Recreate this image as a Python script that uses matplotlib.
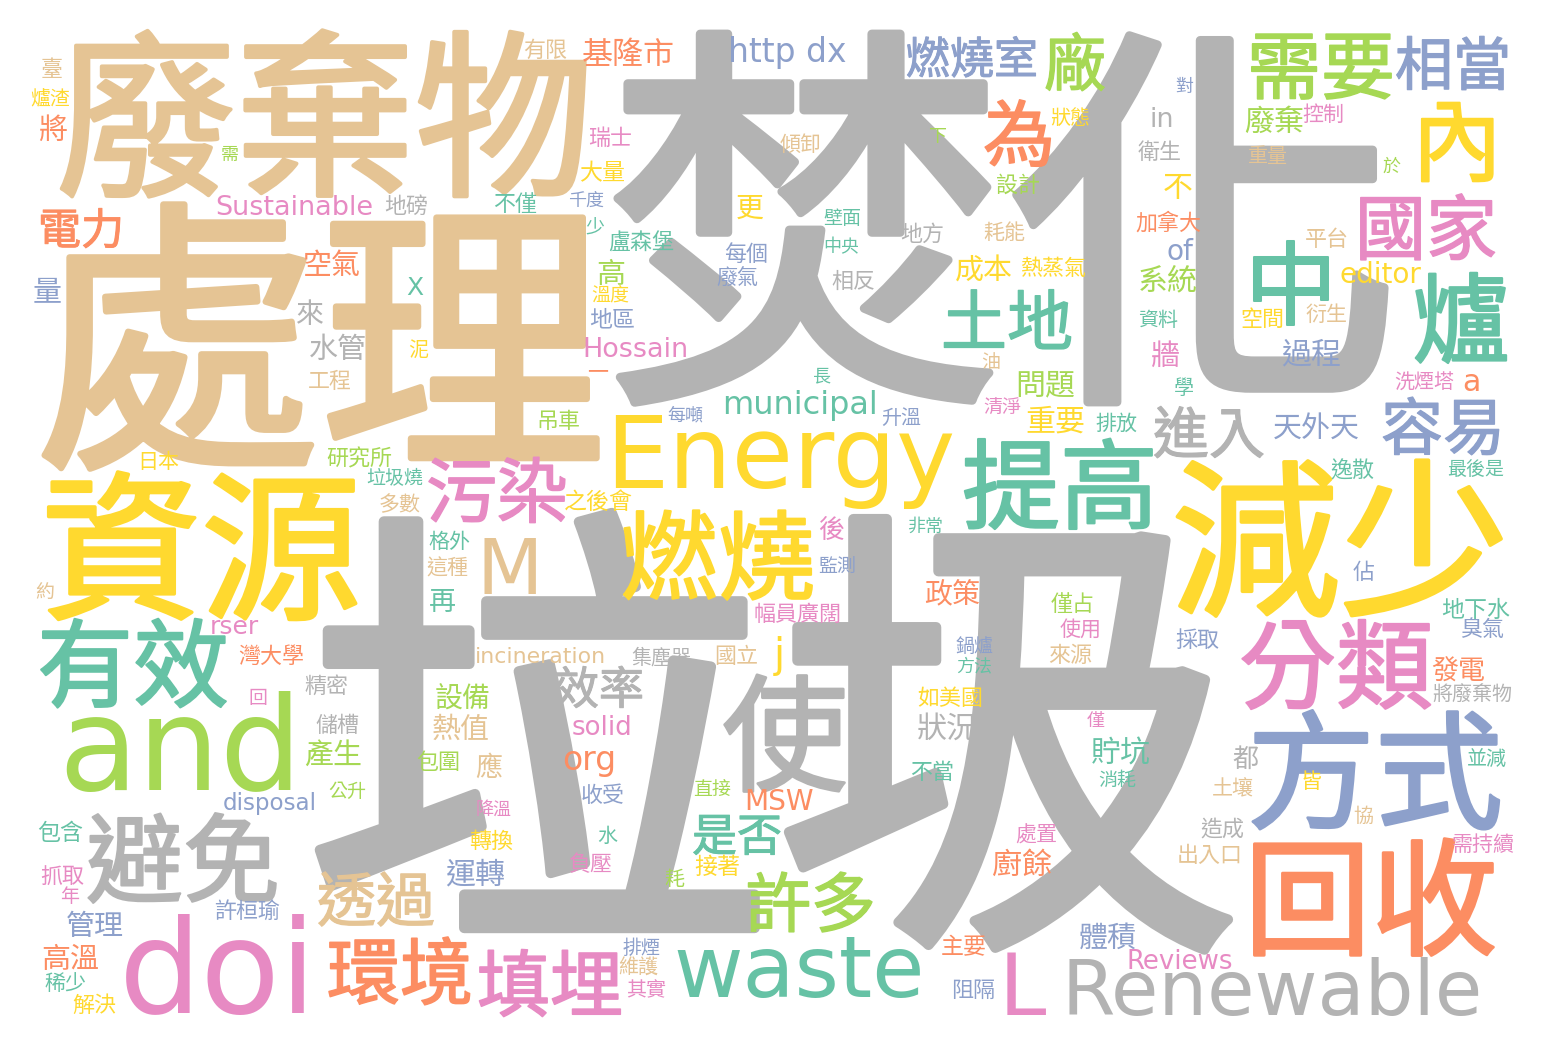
import matplotlib
matplotlib.use("Agg")
import matplotlib.pyplot as plt
import matplotlib.patheffects as pe

# Latin words in DejaVu, CJK glyphs fall back to Noto Sans CJK TC
plt.rcParams["font.family"] = ["DejaVu Sans", "Noto Sans CJK TC"]

W, H = 1548, 1052
DPI = 100

PALETTE = {
    "green": "#66c2a5", "orange": "#fc8d62", "blue": "#8da0cb", "pink": "#e78ac3",
    "lime": "#a6d854", "yellow": "#ffd92f", "tan": "#e5c494", "gray": "#b3b3b3",
}

# word -> weight (rendered em size in px)
WEIGHTS = {
    "焚化": 400, "垃圾": 470, "處理": 286, "廢棄物": 179, "資源": 160, "減少": 169,
    "回收": 127, "方式": 128, "避免": 97, "提高": 98, "燃燒": 97, "分類": 97,
    "有效": 96, "中": 92, "爐": 98, "內": 90, "為": 72, "廠": 62, "需要": 74,
    "相當": 58, "國家": 71, "土地": 66, "容易": 62, "進入": 56, "污染": 71,
    "效率": 45, "使": 126, "是否": 45, "許多": 65, "透過": 59, "環境": 73,
    "填埋": 73, "燃燒室": 44, "電力": 43, "基隆市": 31,
    "臺": 22, "爐渣": 20, "將": 29, "需": 18, "地磅": 22, "空氣": 29, "量": 29,
    "來": 28, "水管": 29, "工程": 22, "日本": 21, "研究所": 22, "垃圾燒": 19,
    "多數": 21, "約": 19, "灣大學": 22, "精密": 22, "回": 19, "泥": 20, "一": 21,
    "吊車": 22, "每噸": 18, "之後會": 23, "格外": 21, "這種": 21, "再": 27,
    "幅員廣闊": 22, "集塵器": 20, "國立": 22, "設備": 28, "油": 19, "長": 18,
    "問題": 30, "升溫": 20, "清淨": 19, "重要": 30, "排放": 21, "後": 26,
    "非常": 18, "監測": 19, "政策": 28, "僅占": 22, "使用": 21, "鍋爐": 19,
    "方法": 18, "來源": 22, "如美國": 22, "傾卸": 21, "衛生": 22, "設計": 22,
    "壁面": 19, "中央": 18, "地方": 22, "耗能": 21, "加拿大": 22, "相反": 22,
    "成本": 29, "熱蒸氣": 22, "系統": 30, "資料": 20, "牆": 29, "對": 18,
    "狀態": 20, "下": 18, "廢棄": 30, "控制": 21, "重量": 20, "於": 18, "不": 30,
    "平台": 22, "衍生": 21, "空間": 22, "過程": 30, "學": 20, "洗煙塔": 20,
    "天外天": 29, "逸散": 22, "最後是": 19, "佔": 22, "地下水": 23, "臭氣": 22,
    "採取": 22, "發電": 27, "將廢棄物": 20, "都": 26, "並減": 20, "皆": 21,
    "土壤": 21, "協": 20, "造成": 22, "需持續": 21, "出入口": 22, "狀況": 30,
    "僅": 18, "貯坑": 30, "不當": 22, "消耗": 19, "處置": 21, "廚餘": 30,
    "主要": 23, "體積": 29, "阻隔": 22, "熱值": 29, "包圍": 22, "應": 27,
    "收受": 22, "直接": 19, "降溫": 18, "水": 20, "轉換": 22, "負壓": 22,
    "接著": 23, "耗": 20, "運轉": 30, "排煙": 19, "維護": 20, "其實": 20,
    "儲槽": 22, "產生": 29, "公升": 19, "包含": 23, "抓取": 22, "年": 19,
    "許桓瑜": 22, "管理": 29, "高溫": 29, "稀少": 21, "解決": 22, "有限": 22,
    "瑞士": 22, "大量": 23, "不僅": 22, "千度": 18, "少": 19, "盧森堡": 22,
    "更": 28, "每個": 22, "廢氣": 21, "高": 29, "溫度": 19, "地區": 23,
    "Sustainable": 27, "X": 25, "rser": 25, "Hossain": 27, "municipal": 32,
    "Energy": 100, "M": 77, "incineration": 22, "j": 40, "http dx": 33, "in": 27,
    "of": 28, "editor": 28, "a": 30, "Reviews": 26, "Renewable": 77, "MSW": 28,
    "waste": 85, "L": 85, "solid": 26, "org": 33, "disposal": 23, "doi": 130,
    "and": 130,
}

COLORS = {
    "焚化": "gray", "垃圾": "gray", "處理": "tan", "廢棄物": "tan", "資源": "yellow",
    "減少": "yellow", "回收": "orange", "方式": "blue", "避免": "gray", "提高": "green",
    "燃燒": "yellow", "分類": "pink", "有效": "green", "中": "green", "爐": "green",
    "內": "yellow", "為": "orange", "廠": "lime", "需要": "lime", "相當": "blue",
    "國家": "pink", "土地": "green", "容易": "blue", "進入": "gray", "污染": "pink",
    "效率": "gray", "使": "gray", "是否": "green", "許多": "lime", "透過": "tan",
    "環境": "orange", "填埋": "pink", "燃燒室": "blue", "電力": "orange", "基隆市": "orange",
    "臺": "tan", "爐渣": "yellow", "將": "orange", "需": "lime", "地磅": "gray",
    "空氣": "orange", "量": "blue", "來": "gray", "水管": "gray", "工程": "tan",
    "日本": "yellow", "研究所": "lime", "垃圾燒": "green", "多數": "tan", "約": "tan",
    "灣大學": "orange", "精密": "gray", "回": "pink", "泥": "yellow", "一": "orange",
    "吊車": "lime", "每噸": "blue", "之後會": "yellow", "格外": "green", "這種": "tan",
    "再": "green", "幅員廣闊": "pink", "集塵器": "gray", "國立": "tan", "設備": "lime",
    "油": "tan", "長": "green", "問題": "lime", "升溫": "blue", "清淨": "pink",
    "重要": "yellow", "排放": "green", "後": "pink", "非常": "green", "監測": "blue",
    "政策": "orange", "僅占": "lime", "使用": "pink", "鍋爐": "blue", "方法": "green",
    "來源": "tan", "如美國": "yellow", "傾卸": "tan", "衛生": "gray", "設計": "lime",
    "壁面": "green", "中央": "green", "地方": "gray", "耗能": "tan", "加拿大": "orange",
    "相反": "gray", "成本": "yellow", "熱蒸氣": "yellow", "系統": "lime", "資料": "green",
    "牆": "pink", "對": "blue", "狀態": "yellow", "下": "lime", "廢棄": "lime",
    "控制": "pink", "重量": "tan", "於": "lime", "不": "yellow", "平台": "tan",
    "衍生": "tan", "空間": "yellow", "過程": "blue", "學": "green", "洗煙塔": "pink",
    "天外天": "blue", "逸散": "green", "最後是": "green", "佔": "blue", "地下水": "green",
    "臭氣": "blue", "採取": "blue", "發電": "orange", "將廢棄物": "gray", "都": "gray",
    "並減": "green", "皆": "yellow", "土壤": "tan", "協": "tan", "造成": "gray",
    "需持續": "pink", "出入口": "tan", "狀況": "gray", "僅": "pink", "貯坑": "green",
    "不當": "green", "消耗": "green", "處置": "pink", "廚餘": "orange", "主要": "orange",
    "體積": "blue", "阻隔": "blue", "熱值": "tan", "包圍": "lime", "應": "tan",
    "收受": "blue", "直接": "lime", "降溫": "pink", "水": "green", "轉換": "yellow",
    "負壓": "pink", "接著": "yellow", "耗": "lime", "運轉": "blue", "排煙": "blue",
    "維護": "tan", "其實": "pink", "儲槽": "gray", "產生": "lime", "公升": "lime",
    "包含": "green", "抓取": "pink", "年": "pink", "許桓瑜": "blue", "管理": "blue",
    "高溫": "orange", "稀少": "green", "解決": "yellow", "有限": "tan", "瑞士": "pink",
    "大量": "yellow", "不僅": "green", "千度": "blue", "少": "green", "盧森堡": "green",
    "更": "yellow", "每個": "blue", "廢氣": "blue", "高": "lime", "溫度": "yellow",
    "地區": "blue",
    "Sustainable": "pink", "X": "green", "rser": "pink", "Hossain": "pink",
    "municipal": "green", "Energy": "yellow", "M": "tan", "incineration": "tan",
    "j": "yellow", "http dx": "blue", "in": "gray", "of": "blue", "editor": "yellow",
    "a": "orange", "Reviews": "pink", "Renewable": "gray", "MSW": "orange",
    "waste": "green", "L": "pink", "solid": "pink", "org": "orange", "disposal": "blue",
    "doi": "pink", "and": "lime",
}

# layout in image pixels: CJK words -> centre of the glyphs, latin words -> (centre x, baseline)
LAYOUT = {
    "焚化": (1005, 218), "垃圾": (773, 732), "處理": (320, 336), "廢棄物": (325, 114),
    "資源": (201, 546), "減少": (1340, 538), "回收": (1371, 897), "方式": (1375, 770),
    "避免": (183, 858), "提高": (1060, 484), "燃燒": (718, 555), "分類": (1336, 664),
    "有效": (133, 663), "中": (1291, 283), "爐": (1461, 318), "內": (1457, 140),
    "為": (1019, 133), "廠": (1075, 62), "需要": (1321, 65), "相當": (1453, 63),
    "國家": (1426, 227), "土地": (1007, 320), "容易": (1443, 426), "進入": (1209, 432),
    "污染": (497, 490), "效率": (599, 687), "使": (785, 733), "是否": (737, 834),
    "許多": (811, 902), "透過": (376, 899), "環境": (400, 971), "填埋": (550, 983),
    "燃燒室": (972, 57), "電力": (81, 228), "基隆市": (628, 52),
    "臺": (52, 68), "爐渣": (50, 98), "將": (53, 128), "需": (230, 153),
    "地磅": (406, 205), "空氣": (332, 263), "量": (47, 290), "來": (310, 312),
    "水管": (338, 347), "工程": (330, 380), "日本": (158, 460), "研究所": (359, 457),
    "垃圾燒": (395, 477), "多數": (400, 503), "約": (45, 591), "灣大學": (271, 655),
    "精密": (326, 684), "回": (258, 697), "泥": (418, 348), "一": (598, 370),
    "吊車": (558, 420), "每噸": (685, 414), "之後會": (598, 500), "格外": (449, 540),
    "這種": (447, 567), "再": (442, 600), "幅員廣闊": (798, 613), "集塵器": (661, 656),
    "國立": (736, 655), "設備": (463, 696), "油": (991, 361), "長": (822, 374),
    "問題": (1045, 383), "升溫": (901, 416), "清淨": (1002, 407), "重要": (1055, 419),
    "排放": (1116, 422), "後": (831, 528), "非常": (925, 525), "監測": (837, 566),
    "政策": (952, 592), "僅占": (1073, 603), "使用": (1081, 628), "鍋爐": (974, 645),
    "方法": (974, 665), "來源": (1070, 654), "如美國": (950, 697), "傾卸": (801, 143),
    "衛生": (1160, 151), "設計": (1018, 183), "壁面": (842, 217), "中央": (841, 245),
    "地方": (922, 232), "耗能": (1004, 231), "加拿大": (1168, 221), "相反": (853, 280),
    "成本": (984, 269), "熱蒸氣": (1053, 267), "系統": (1168, 278), "資料": (1158, 318),
    "牆": (1165, 354), "對": (1184, 85), "狀態": (1070, 116), "下": (937, 135),
    "廢棄": (1274, 119), "控制": (1323, 113), "重量": (1268, 154), "於": (1391, 165),
    "不": (1178, 186), "平台": (1327, 238), "衍生": (1326, 313), "空間": (1262, 318),
    "過程": (1311, 352), "學": (1184, 386), "洗煙塔": (1424, 381), "天外天": (1316, 426),
    "逸散": (1352, 469), "最後是": (1476, 468), "佔": (1364, 571), "地下水": (1476, 608),
    "臭氣": (1482, 628), "採取": (1197, 639), "發電": (1458, 669), "將廢棄物": (1472, 693),
    "都": (1245, 757), "並減": (1487, 758), "皆": (1311, 780), "土壤": (1233, 787),
    "協": (1363, 814), "造成": (1222, 827), "需持續": (1483, 843), "出入口": (1210, 854),
    "狀況": (947, 726), "僅": (1096, 719), "貯坑": (1121, 751), "不當": (932, 771),
    "消耗": (1117, 779), "處置": (1036, 834), "廚餘": (1022, 862), "主要": (964, 945),
    "體積": (1108, 936), "阻隔": (973, 989), "熱值": (461, 727), "包圍": (438, 761),
    "應": (489, 766), "收受": (603, 794), "直接": (712, 788), "降溫": (494, 808),
    "水": (607, 834), "轉換": (491, 839), "負壓": (591, 863), "接著": (717, 865),
    "耗": (674, 877), "運轉": (475, 872), "排煙": (642, 947), "維護": (638, 966),
    "其實": (646, 989), "儲槽": (337, 724), "產生": (333, 754), "公升": (347, 790),
    "包含": (60, 831), "抓取": (62, 875), "年": (70, 895), "許桓瑜": (247, 910),
    "管理": (95, 924), "高溫": (70, 957), "稀少": (65, 982), "解決": (94, 1004),
    "有限": (545, 48), "瑞士": (610, 137), "大量": (602, 172), "不僅": (515, 203),
    "千度": (586, 199), "少": (595, 225), "盧森堡": (641, 241), "更": (750, 206),
    "每個": (746, 253), "廢氣": (737, 277), "高": (611, 272), "溫度": (610, 293),
    "地區": (612, 318),
    "Sustainable": (294, 215), "X": (415, 295), "rser": (234, 634), "Hossain": (635, 357),
    "municipal": (800, 414), "Energy": (780, 488), "M": (510, 594),
    "incineration": (540, 663), "j": (779, 667), "http dx": (787, 62), "in": (1162, 127),
    "of": (1180, 260), "editor": (1380, 283), "a": (1471, 391), "Reviews": (1180, 969),
    "Renewable": (1272, 1015), "MSW": (779, 810), "waste": (799, 997), "L": (1022, 1015),
    "solid": (602, 735), "org": (589, 770), "disposal": (270, 810), "doi": (218, 1013),
    "and": (180, 790),
}

CJK_MID = 0.38  # glyph centre above baseline, in em

fig = plt.figure(figsize=(W / DPI, H / DPI), dpi=DPI)
ax = fig.add_axes([0, 0, 1, 1])
ax.set_xlim(0, W)
ax.set_ylim(H, 0)
ax.axis("off")

# draw big words first so small ones sit on top
for word in sorted(WEIGHTS, key=WEIGHTS.get, reverse=True):
    em = WEIGHTS[word]
    x, y = LAYOUT[word]
    fs = em * 72 / DPI
    col = PALETTE[COLORS[word]]
    effects = None
    if not word.isascii():
        y = y + CJK_MID * em
        # thicken the larger CJK glyphs a little, rounded like the original font
        if em >= 40:
            effects = [pe.Stroke(linewidth=fs * 0.022, foreground=col,
                                 joinstyle="round", capstyle="round"),
                       pe.Normal()]
    ax.text(x, y, word, fontsize=fs, color=col, ha="center", va="baseline",
            path_effects=effects)

fig.savefig("out.png", dpi=DPI, facecolor="white")
